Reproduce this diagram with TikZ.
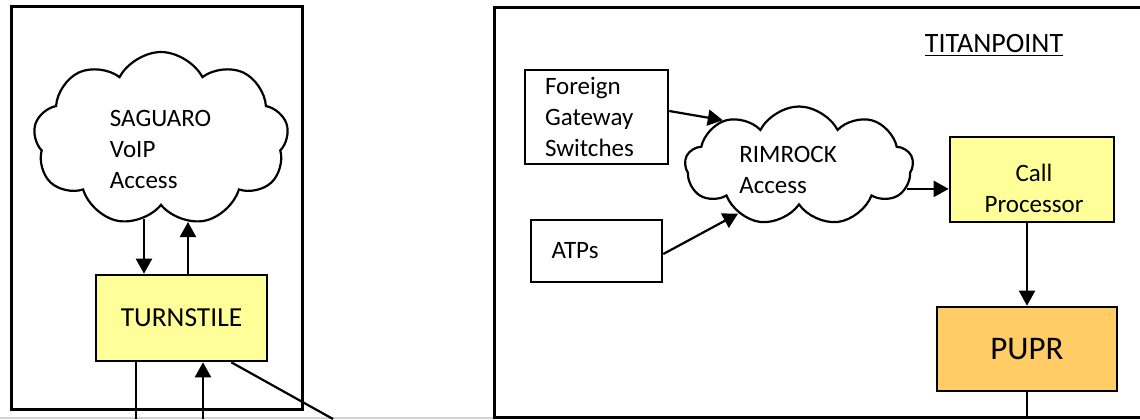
\documentclass[tikz,border=0pt]{standalone}
\usepackage{fontspec}
\setmainfont{Carlito}
\usepackage{tikz}
\usetikzlibrary{arrows.meta,shapes.symbols,positioning}

\definecolor{paleyellow}{HTML}{FFFF99}
\definecolor{paleorange}{HTML}{FFCC66}

\begin{document}
\begin{tikzpicture}[x=0.5pt, y=-0.5pt, font=\fontsize{12.5}{15.5}\selectfont,
		frame/.style={draw, line width=1.5pt},
		box/.style={draw, line width=1.3pt, inner sep=0pt},
		puff/.style={cloud, cloud puffs=9, cloud puff arc=125, cloud ignores aspect, draw, line width=1.1pt, fill=white},
		arr/.style={-{Triangle[length=7.5pt, width=8pt]}, line width=1.1pt}]
		\useasboundingbox (0, 0) rectangle (1140, 419);
		\clip (0, 0) rectangle (1140, 419);
		\draw [gray!35, line width=0.6pt] (0, 418) -- (1140, 418);
		
		% outer frames
		\draw [frame] (11, 6) rectangle (302, 409);
		\draw [frame] (494, 7) rectangle (1160, 417);
		
		% left side
		\node [puff, minimum width=127.5pt, minimum height=87pt] (saguaro) at (161, 139) {};
		\node [align=left] (saguarotxt) at (160.5, 149) {SAGUARO\\VoIP\\Access};
		\node [box, fill=paleyellow, minimum width=85.5pt, minimum height=43pt, font=\fontsize{13.75}{16}\selectfont] (turnstile) at (181.5, 318) {TURNSTILE};
		\coordinate (tsout) at (136, 419);
		\coordinate (tsin) at (203, 419);
		\coordinate (tsdiag) at (333, 419);
		
		% right side
		\node [anchor=base, font=\fontsize{14}{16}\selectfont] (titan) at (994, 52) {\underline{TITANPOINT}};
		\node [box, minimum width=71.5pt, minimum height=47pt, text width=51.5pt, inner xsep=10pt, align=left] (fgs) at (596.5, 117) {Foreign\\Gateway\\Switches};
		\node [box, minimum width=65.5pt, minimum height=31pt, text width=45pt, inner xsep=10.25pt, align=left] (atps) at (596.5, 251) {ATPs};
		\node [puff, minimum width=114pt, minimum height=59.5pt] (rimrock) at (799, 166) {};
		\node [align=left] (rimrocktxt) at (788, 170) {RIMROCK\\Access};
		\node [box, fill=paleyellow, minimum width=82pt, minimum height=42.5pt] (callproc) at (1032, 179.5) {};
		\node [align=center] (callproctxt) at (1034, 188) {Call\\Processor};
		\node [box, fill=paleorange, minimum width=90pt, minimum height=42pt, font=\fontsize{16.5}{20}\selectfont] (pupr) at (1027, 349) {PUPR};
		\coordinate (puprout) at (1028, 419);
		
		\draw [arr] (saguaro.258) -- (saguaro.258 |- turnstile.north);
		\draw [arr] (turnstile.north -| saguaro.288) -- (saguaro.288);
		\draw [line width=1.1pt] (turnstile.south -| tsout) -- (tsout);
		\draw [arr] (tsin) -- (tsin |- turnstile.south);
		\draw [line width=1.1pt] ([xshift=-18.5pt]turnstile.south east) -- (tsdiag);
		
		\draw [arr] ([yshift=3pt]fgs.east) -- (rimrock.149);
		\draw [arr] ([yshift=-1.5pt]atps.east) -- (rimrock.218);
		\draw [arr] (rimrock.-12) -- (rimrock.-12 -| callproc.west);
		\draw [arr] (callproc.south -| pupr.north) -- (pupr.north);
		\draw [line width=1.1pt] (pupr.south) -- (pupr.south |- puprout);
\end{tikzpicture}
\end{document}
